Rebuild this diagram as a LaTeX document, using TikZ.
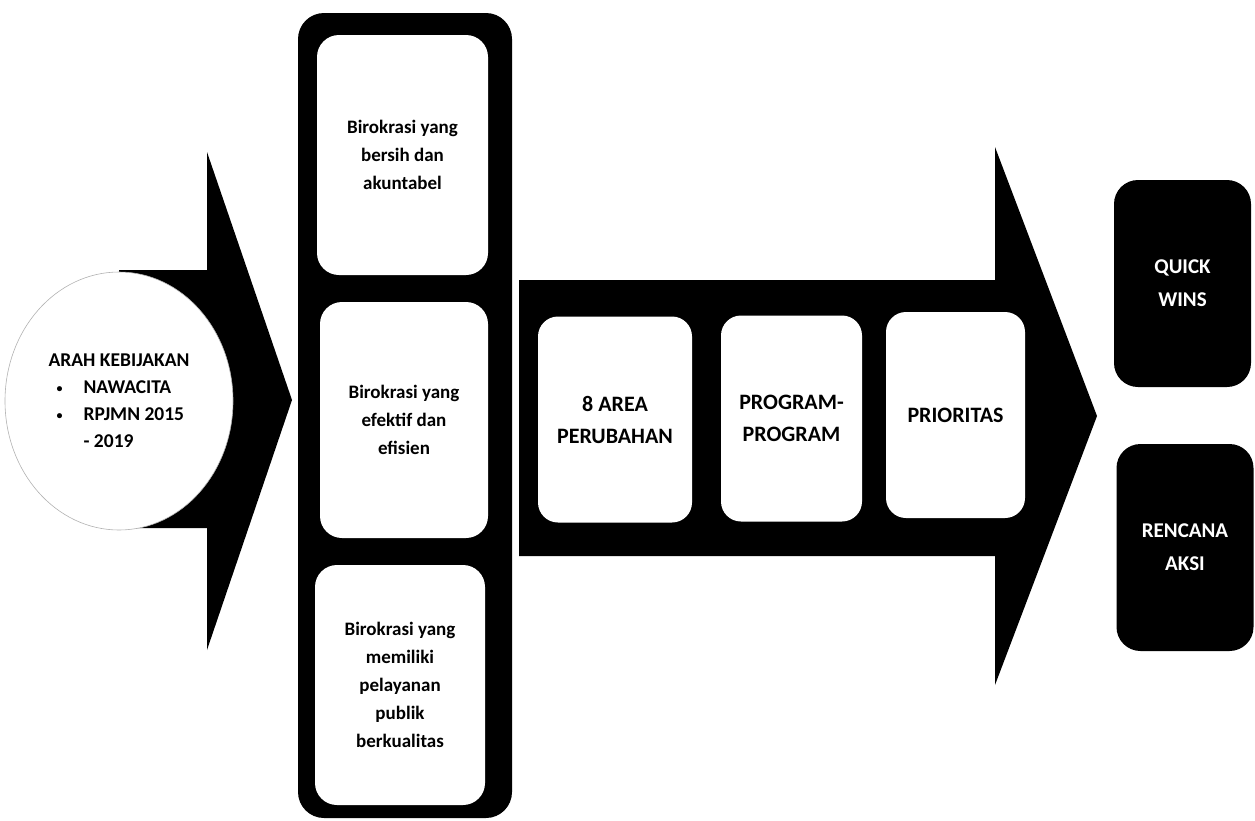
\documentclass[tikz,border=0pt]{standalone}
\usepackage{fontspec}
\setmainfont{Carlito}
\usetikzlibrary{shapes, positioning}

\newcommand{\smallbul}{\makebox[27pt][l]{\raisebox{1pt}{\fontsize{12}{12}\selectfont\textbullet}}}

\tikzset{
    whitebox/.style={fill=white, rounded corners=22pt, align=center, inner sep=0pt,
        font=\bfseries\fontsize{19}{28}\selectfont},
    stagebox/.style={fill=white, rounded corners=20pt, align=center, inner sep=0pt,
        minimum height=206pt, font=\bfseries\fontsize{22}{32}\selectfont},
    resultbox/.style={fill=black, text=white, rounded corners=24pt, align=center, inner sep=0pt,
        minimum width=137pt, minimum height=207pt, font=\bfseries\fontsize{21}{33}\selectfont}
}

\begin{document}
\begin{tikzpicture}[x=1pt, y=-1pt]
            \useasboundingbox (0,0) rectangle (1255,820);

            % Arrows
            \fill[black] (119,270) -- (207,270) -- (207,152) -- (292,400)
                -- (207,650) -- (207,528) -- (119,528) -- cycle;
            \fill[black] (519,280) -- (995,280) -- (995,147) -- (1097,416)
                -- (995,685) -- (995,556) -- (519,556) -- cycle;

            % Nodes
            \node[ellipse, draw=gray!60, line width=0.6pt, fill=white, align=left,
                minimum width=228pt, minimum height=258pt, inner sep=0pt,
                font=\bfseries\fontsize{19.5}{27}\selectfont] (arah) at (119,401)
                {ARAH KEBIJAKAN\\
                 \hspace*{8pt}\smallbul NAWACITA\\
                 \hspace*{8pt}\smallbul RPJMN 2015\\
                 \hspace*{35pt}- 2019};

            \node[fill=black, rounded corners=26pt, minimum width=214pt,
                minimum height=805pt, inner sep=0pt] (panel) at (405,415.5) {};
            \node[whitebox, minimum width=171pt, minimum height=240pt] (bersih) at (402.5,155)
                {Birokrasi yang\\ bersih dan\\ akuntabel};
            \node[whitebox, minimum width=168pt, minimum height=236pt] (efektif) at (404,420)
                {Birokrasi yang\\ efektif dan\\ efisien};
            \node[whitebox, minimum width=170pt, minimum height=240pt] (publik) at (400,685)
                {Birokrasi yang\\ memiliki\\ pelayanan\\ publik\\ berkualitas};

            \node[stagebox, minimum width=154pt] (area) at (615,419.5) {8 AREA\\ PERUBAHAN};
            \node[stagebox, minimum width=141pt] (program) at (791.5,418.5) {PROGRAM-\\ PROGRAM};
            \node[stagebox, minimum width=139pt] (prioritas) at (955.5,415) {PRIORITAS};

            \node[resultbox] (quick) at (1182.5,283.5) {QUICK\\ WINS};
            \node[resultbox] (rencana) at (1185,547.5) {RENCANA\\ AKSI};
        \end{tikzpicture}
\end{document}
